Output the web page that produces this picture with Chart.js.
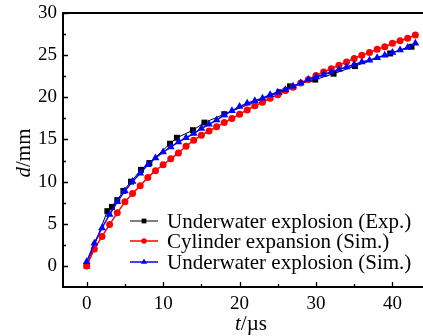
<!DOCTYPE html>
<html>
<head>
<meta charset="utf-8">
<script src="https://cdn.jsdelivr.net/npm/chart.js@4.4.1/dist/chart.umd.min.js"></script>
<style>
  html, body { margin: 0; padding: 0; background: #fff; }
</style>
</head>
<body>
<canvas id="grafico" width="423" height="336"></canvas>
<script>
// tiempos de la simulacion (us)
const tSim = [0, 1, 2, 3, 4, 5, 6, 7, 8, 9, 10, 11, 12, 13, 14, 15, 16, 17, 18, 19, 20, 21,
    22, 23, 24, 25, 26, 27, 28, 29, 30, 31, 32, 33, 34, 35, 36, 37, 38, 39, 40, 41, 42, 43];
const dCylinderSim = [0, 2.0, 3.5, 4.9, 6.3, 7.6, 8.6, 9.5, 10.5, 11.3, 12.0, 12.7, 13.4, 14.2,
    14.9, 15.5, 16.0, 16.5, 17.0, 17.5, 18.0, 18.5, 19.0, 19.4, 19.9, 20.3, 20.8, 21.2, 21.7,
    22.1, 22.6, 23.0, 23.4, 23.8, 24.2, 24.6, 25.0, 25.3, 25.7, 26.0, 26.4, 26.7, 27.0, 27.4];
const dUnderwaterSim = [0.5, 2.7, 4.5, 6.1, 7.6, 8.9, 10.0, 11.0, 12.0, 12.8, 13.5, 14.1, 14.7,
    15.2, 15.7, 16.3, 16.8, 17.3, 17.9, 18.4, 18.9, 19.3, 19.6, 19.9, 20.3, 20.6, 20.9, 21.3,
    21.7, 22.1, 22.4, 22.7, 23.0, 23.3, 23.6, 23.9, 24.2, 24.4, 24.7, 25.0, 25.3, 25.6, 25.9, 26.4];
// datos experimentales
const tExp = [0, 2.7, 3.3, 4.0, 4.8, 5.8, 7.1, 8.2, 10.9, 11.8, 13.9, 15.4, 18.0, 25.2, 26.6,
    29.9, 32.3, 35.1, 39.7, 42.5];
const dExp = [0, 6.5, 7.0, 7.8, 8.9, 10.0, 11.4, 12.2, 14.5, 15.2, 16.1, 17.0, 18.0, 20.6, 21.3,
    22.1, 22.8, 23.7, 25.2, 26.0];
const seriesNames = ['Underwater explosion (Exp.)', 'Cylinder expansion (Sim.)', 'Underwater explosion (Sim.)'];
const xTicks = [0, 10, 20, 30, 40];
const yTicks = [0, 5, 10, 15, 20, 25, 30];

function pares(xs, ys) {
    return xs.map((x, i) => ({ x: x, y: ys[i] }));
}

const serif = '"Liberation Serif", "Times New Roman", serif';

// ejes, marco, titulos y leyenda dibujados a mano
const decoracion = {
    id: 'decoracion',
    afterDraw(chart) {
        const ctx = chart.ctx;
        const ca = chart.chartArea;
        const xs = chart.scales.x;
        const ys = chart.scales.y;
        ctx.save();
        ctx.strokeStyle = '#000';
        ctx.lineWidth = 2;
        ctx.beginPath();
        ctx.moveTo(ca.left, ca.bottom);
        ctx.lineTo(ca.left, ca.top);
        ctx.lineTo(chart.width, ca.top);
        ctx.moveTo(ca.left - 1, ca.bottom);
        ctx.lineTo(chart.width, ca.bottom);
        ctx.stroke();

        // marcas hacia adentro
        ctx.lineWidth = 1.3;
        ctx.beginPath();
        for (let v = 0; v <= 30; v += 2.5) {
            const py = Math.round(ys.getPixelForValue(v)) + 0.5;
            const len = (v % 5 === 0) ? 5 : 3;
            ctx.moveTo(ca.left, py);
            ctx.lineTo(ca.left + len, py);
        }
        for (let v = 0; v <= 44; v += 5) {
            const px = Math.round(xs.getPixelForValue(v)) + 0.5;
            const len = (v % 10 === 0) ? 5 : 3;
            ctx.moveTo(px, ca.bottom);
            ctx.lineTo(px, ca.bottom - len);
        }
        ctx.stroke();

        // titulos de los ejes
        ctx.fillStyle = '#000';
        ctx.textBaseline = 'middle';
        ctx.font = 'italic 21px ' + serif;
        const wt = ctx.measureText('t').width;
        ctx.font = '21px ' + serif;
        const wus = ctx.measureText('/\u00b5s').width;
        let x0 = 251 - (wt + wus) / 2;
        ctx.textAlign = 'left';
        ctx.font = 'italic 21px ' + serif;
        ctx.fillText('t', x0, 324);
        ctx.font = '21px ' + serif;
        ctx.fillText('/\u00b5s', x0 + wt, 324);

        ctx.translate(24, 153);
        ctx.rotate(-Math.PI / 2);
        ctx.font = 'italic 21px ' + serif;
        const wd = ctx.measureText('d').width;
        ctx.font = '21px ' + serif;
        const wmm = ctx.measureText('/mm').width;
        x0 = -(wd + wmm) / 2;
        ctx.font = 'italic 21px ' + serif;
        ctx.fillText('d', x0, 0);
        ctx.font = '21px ' + serif;
        ctx.fillText('/mm', x0 + wd, 0);
        ctx.restore();

        // leyenda
        ctx.save();
        const filas = [221, 241, 262];
        chart.data.datasets.forEach((ds, i) => {
            const y = filas[i];
            ctx.strokeStyle = ds.borderColor;
            ctx.lineWidth = ds.borderWidth;
            ctx.beginPath();
            ctx.moveTo(130, y);
            ctx.lineTo(158, y);
            ctx.stroke();
            ctx.fillStyle = ds.backgroundColor;
            Chart.helpers.drawPoint(ctx, { pointStyle: ds.pointStyle, radius: ds.pointRadius * 0.8, borderWidth: 0 }, 144, y);
            ctx.fillStyle = '#000';
            ctx.font = '21px ' + serif;
            ctx.textAlign = 'left';
            ctx.textBaseline = 'middle';
            ctx.fillText(seriesNames[i], 167, y + 1);
        });
        ctx.restore();
    }
};

const ctx = document.getElementById('grafico').getContext('2d');
const grafico = new Chart(ctx, {
    type: 'line',
    data: {
        datasets: [{
            label: seriesNames[0],
            data: pares(tExp, dExp),
            borderColor: '#000',
            backgroundColor: '#000',
            borderWidth: 1,
            pointStyle: 'rect',
            pointRadius: 4.2,
            pointBorderWidth: 0,
            order: 3
        }, {
            label: seriesNames[1],
            data: pares(tSim, dCylinderSim),
            borderColor: '#ff0000',
            backgroundColor: '#ff0000',
            borderWidth: 1.5,
            pointStyle: 'circle',
            pointRadius: 3.5,
            pointBorderWidth: 0,
            order: 2
        }, {
            label: seriesNames[2],
            data: pares(tSim, dUnderwaterSim),
            borderColor: '#0000ff',
            backgroundColor: '#0000ff',
            borderWidth: 1.5,
            pointStyle: 'triangle',
            pointRadius: 4.5,
            pointBorderWidth: 0,
            order: 1
        }]
    },
    options: {
        responsive: false,
        animation: false,
        devicePixelRatio: 1,
        layout: { autoPadding: false, padding: { left: 0, top: 13, right: 0, bottom: 0 } },
        plugins: {
            legend: { display: false },
            tooltip: { enabled: false }
        },
        scales: {
            x: {
                type: 'linear',
                min: -3.1,
                max: 44,
                afterBuildTicks: s => { s.ticks = xTicks.map(v => ({ value: v })); },
                afterFit: s => { s.height = 49; s.paddingLeft = 0; s.paddingRight = 0; },
                grid: { display: false, drawTicks: false },
                border: { display: false },
                ticks: { color: '#000', font: { family: serif, size: 19 }, padding: 6, maxRotation: 0 }
            },
            y: {
                type: 'linear',
                min: -2.5,
                max: 30,
                afterBuildTicks: s => { s.ticks = yTicks.map(v => ({ value: v })); },
                afterFit: s => { s.width = 63; s.paddingTop = 0; s.paddingBottom = 0; },
                grid: { display: false, drawTicks: false },
                border: { display: false },
                ticks: { color: '#000', font: { family: serif, size: 19 }, padding: 6 }
            }
        }
    },
    plugins: [decoracion]
});
</script>
</body>
</html>
